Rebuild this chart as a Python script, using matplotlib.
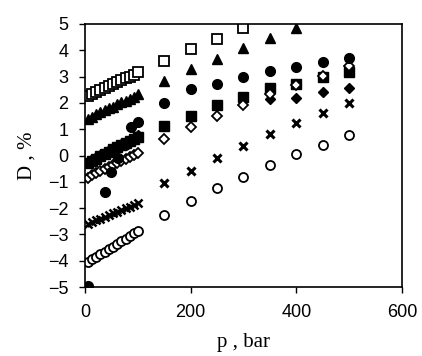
import matplotlib
matplotlib.use('Agg')
import matplotlib.pyplot as plt

# doan ap suat thap (0-100 bar), diem dày
p_low = [5, 13, 21, 29, 37, 45, 53, 61, 69, 77, 85, 93, 100]
# doan ap suat cao
p_high = [150, 200, 250, 300, 350, 400, 450, 500]

# o vuong rong
sq_open_low = [2.28, 2.35, 2.42, 2.5, 2.57, 2.64, 2.71, 2.78, 2.86, 2.93, 3.0, 3.07, 3.17]
sq_open_high = [3.6, 4.04, 4.43, 4.86]
# tam giac dac
tri_low = [1.4, 1.48, 1.56, 1.64, 1.72, 1.79, 1.86, 1.94, 2.02, 2.09, 2.16, 2.24, 2.33]
tri_high = [2.84, 3.28, 3.66, 4.1, 4.46, 4.84]
# o vuong dac
sq_fill_low = [-0.3, -0.2, -0.12, -0.03, 0.06, 0.15, 0.24, 0.32, 0.4, 0.48, 0.56, 0.64, 0.72]
sq_fill_high = [1.12, 1.51, 1.92, 2.24, 2.55, 2.72, 2.97, 3.19]
# thoi dac
dia_fill_low = [-0.25, -0.15, -0.06, 0.03, 0.11, 0.2, 0.28, 0.36, 0.44, 0.52, 0.6, 0.68, 0.78]
dia_fill_high = [2.14, 2.2, 2.43, 2.55]
p_dia_fill = [350, 400, 450, 500]
# tron dac
p_circ = [5, 38, 50, 62, 75, 88, 100, 150, 200, 250, 300, 350, 400, 450, 500]
circ = [-4.95, -1.38, -0.62, -0.1, 0.4, 1.1, 1.27, 1.98, 2.52, 2.72, 3.0, 3.21, 3.38, 3.54, 3.72]
# thoi rong
dia_open_low = [-0.85, -0.76, -0.68, -0.6, -0.52, -0.44, -0.36, -0.28, -0.2, -0.12, -0.04, 0.03, 0.1]
dia_open_high = [0.62, 1.1, 1.51, 1.92, 2.35, 2.68, 3.02, 3.42]
# dau x
x_low = [-2.6, -2.53, -2.46, -2.4, -2.33, -2.27, -2.2, -2.14, -2.07, -2.01, -1.94, -1.87, -1.8]
x_high = [-1.06, -0.58, -0.09, 0.36, 0.81, 1.22, 1.6, 2.01]
# tron rong
co_low = [-4.05, -3.95, -3.85, -3.76, -3.66, -3.56, -3.46, -3.36, -3.26, -3.16, -3.06, -2.96, -2.86]
co_high = [-2.26, -1.73, -1.25, -0.8, -0.36, 0.06, 0.4, 0.78]

fig = plt.figure(figsize=(4.22, 3.56), dpi=100)
ax = fig.add_axes([0.2014, 0.1938, 0.7512, 0.7388])

ms = 6.5
mew = 1.3
op = dict(mfc='white', mec='black', mew=mew, ls='none', ms=ms)
fl = dict(color='black', ls='none', ms=ms)

# duong cham ben canh dau x
ax.plot(p_low, [v - 0.12 for v in x_low], ls=':', color='black', lw=1.2)

ax.plot(p_low, co_low, 'o', **op)
ax.plot(p_high, co_high, 'o', **op)
ax.plot(p_low, x_low, 'x', color='black', ls='none', ms=5.5, mew=1.8)
ax.plot(p_high, x_high, 'x', color='black', ls='none', ms=6, mew=2.2)
ax.plot(p_low, dia_fill_low, 'D', color='black', ls='none', ms=5)
ax.plot(p_dia_fill, dia_fill_high, 'D', color='black', ls='none', ms=5.5)
ax.plot(p_low, sq_fill_low, 's', **fl)
ax.plot(p_high, sq_fill_high, 's', **fl)
ax.plot(p_low, dia_open_low, 'D', mfc='white', mec='black', mew=mew, ls='none', ms=5)
ax.plot(p_high, dia_open_high, 'D', mfc='white', mec='black', mew=mew, ls='none', ms=5)
ax.plot(p_circ, circ, 'o', color='black', ls='none', ms=7)
ax.plot(p_low, tri_low, '^', **fl)
ax.plot(p_high[:6], tri_high, '^', **fl)
ax.plot(p_low, sq_open_low, 's', **op)
ax.plot(p_high[:4], sq_open_high, 's', **op)

ax.set_xlim(0, 600)
ax.set_ylim(-5, 5)
ax.set_xticks([0, 200, 400, 600])
ax.set_yticks(range(-5, 6))
for s in ax.spines.values():
    s.set_linewidth(1.2)
ax.tick_params(direction='out', length=4, width=1, labelsize=13, pad=8)
for t in ax.get_xticklabels() + ax.get_yticklabels():
    t.set_family('Liberation Sans')

ax.set_xlabel('p , bar', family='Liberation Serif', fontsize=15, labelpad=9)
ax.set_ylabel('D , %', family='Liberation Serif', fontsize=15, labelpad=8)

fig.savefig('out.png', dpi=100)
